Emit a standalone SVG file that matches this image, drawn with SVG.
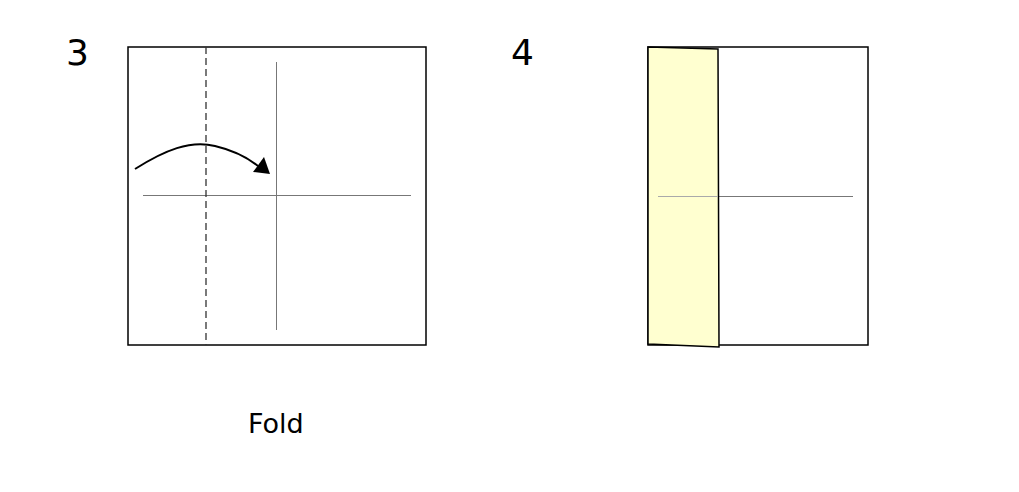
<svg xmlns="http://www.w3.org/2000/svg" width="1019" height="492" viewBox="0 0 1019 492">
<style>
.sq{fill:#fff;stroke:#000;stroke-width:1.5}
.crease{stroke:#777;stroke-width:1;fill:none}
.lbl{font-family:"DejaVu Sans",Verdana,sans-serif;fill:#000}
</style>
<rect width="1019" height="492" fill="#fff"/>
<g id="step3">
<rect class="sq" x="128" y="47" width="298" height="298"/>
<line class="crease" x1="276.5" y1="62" x2="276.5" y2="330"/>
<line class="crease" x1="143" y1="195.5" x2="411" y2="195.5"/>
<line x1="206" y1="47" x2="206" y2="345" stroke="#333" stroke-width="1.3" stroke-dasharray="7,4"/>
<text class="lbl" x="66" y="65" font-size="36">3</text>
</g>
<g id="connectors">
<path d="M135,169 C165,150 190,140 215,146 C232,150 248,158 258,166" fill="none" stroke="#000" stroke-width="2"/>
<polygon points="270,174 253,172 264,157" fill="#000"/>
</g>
<g id="step4">
<rect class="sq" x="648" y="47" width="220" height="298"/>
<line class="crease" x1="658" y1="196.5" x2="853" y2="196.5"/>
<polygon points="648,47 718,49 719,347 648,344" fill="#ffffd0" stroke="#000" stroke-width="1.5"/>
<line x1="658" y1="196.5" x2="718" y2="196.5" stroke="#aaa" stroke-width="1"/>
<text class="lbl" x="511" y="65" font-size="36">4</text>
</g>
<g id="caption">
<text class="lbl" x="248" y="433" font-size="27">Fold</text>
</g>
</svg>
